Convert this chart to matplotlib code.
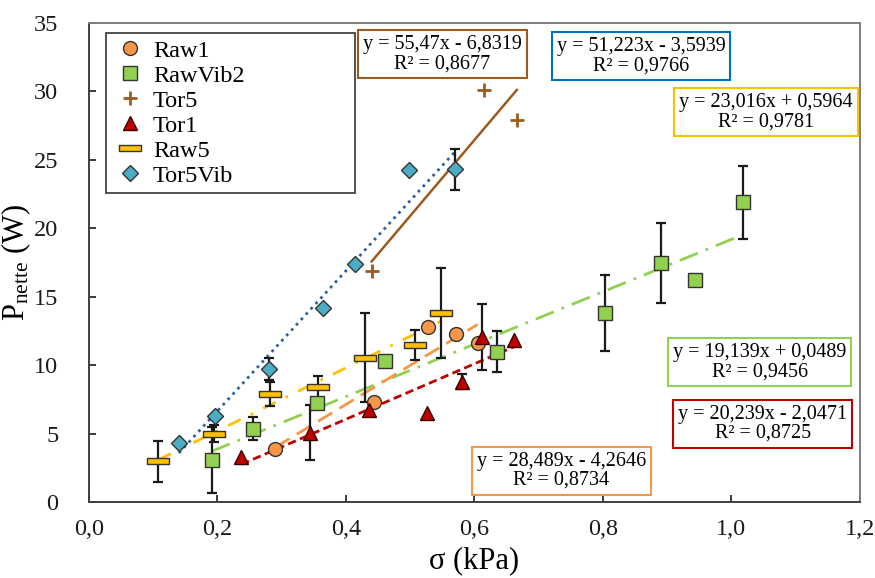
import numpy as np
import matplotlib
matplotlib.use("Agg")
import matplotlib.pyplot as plt
from matplotlib.path import Path

plt.rcParams['font.family'] = ['Liberation Serif', 'DejaVu Serif']
plt.rcParams['mathtext.fontset'] = 'custom'
plt.rcParams['mathtext.rm'] = 'Liberation Serif'
plt.rcParams['mathtext.it'] = 'Liberation Serif:italic'

# --- data ---
raw1_x = [0.29, 0.444, 0.527, 0.571, 0.605]
raw1_y = [3.9, 7.3, 12.8, 12.3, 11.6]

rawvib2_x = [0.191, 0.256, 0.355, 0.461, 0.635, 0.803, 0.89, 0.944, 1.018]
rawvib2_y = [3.06, 5.37, 7.24, 10.31, 10.97, 13.81, 17.46, 16.24, 21.9]
rawvib2_err = [2.4, 0.85, 0, 0, 1.5, 2.8, 2.9, 0, 2.65]

tor5_x = [0.44, 0.615, 0.666]
tor5_y = [16.87, 30.1, 27.9]

tor1_x = [0.237, 0.344, 0.436, 0.526, 0.58, 0.612, 0.661]
tor1_y = [3.26, 5.06, 6.71, 6.47, 8.78, 12.06, 11.87]
tor1_err = [0, 2.0, 0, 0, 0.55, 2.43, 0]

raw5_x = [0.108, 0.195, 0.282, 0.356, 0.429, 0.507, 0.548]
raw5_y = [2.97, 5.0, 7.9, 8.4, 10.55, 11.45, 13.81]
raw5_err = [1.48, 0.6, 0.9, 0.8, 3.26, 1.1, 3.3]

tor5vib_x = [0.14, 0.196, 0.28, 0.364, 0.414, 0.498, 0.57]
tor5vib_y = [4.33, 6.27, 9.75, 14.2, 17.41, 24.25, 24.3]
tor5vib_err = [0, 0, 0.8, 0, 0, 0, 1.5]

# trendline equations (slope, intercept, R2) as printed on the chart
fits = {
    'Raw1': (28.489, -4.2646, '0,8734', 'y = 28,489x - 4,2646'),
    'RawVib2': (19.139, 0.0489, '0,9456', 'y = 19,139x + 0,0489'),
    'Tor5': (55.47, -6.8319, '0,8677', 'y = 55,47x - 6,8319'),
    'Tor1': (20.239, -2.0471, '0,8725', 'y = 20,239x - 2,0471'),
    'Raw5': (23.016, 0.5964, '0,9781', 'y = 23,016x + 0,5964'),
    'Tor5Vib': (51.223, -3.5939, '0,9766', 'y = 51,223x - 3,5939'),
}

c_orange = '#f79646'
c_green = '#92d050'
c_brown = '#9c5a1e'
c_red = '#c00000'
c_gold = '#ffc000'
c_blue = '#4bacc6'
c_dblue = '#2f5f9e'

fig = plt.figure(figsize=(8.75, 5.78), dpi=100)
ax = fig.add_axes([0.1017, 0.1315, 0.881, 0.8287])

def errbars(x, y, e):
    x = np.array(x); y = np.array(y); e = np.array(e)
    m = e > 0
    ax.errorbar(x[m], y[m], yerr=e[m], fmt='none', ecolor='#1a1a1a',
                elinewidth=1.6, capsize=3.5, capthick=1.6, zorder=3)

def trend(x, name, color, ls, lw=1.8):
    a, b = fits[name][0], fits[name][1]
    xs = np.array([min(x), max(x)])
    ax.plot(xs, a * xs + b, color=color, linestyle=ls, lw=lw, zorder=2)

# trendlines
trend(tor5vib_x, 'Tor5Vib', c_dblue, (0, (1, 1.6)), 2.0)
trend(tor5_x, 'Tor5', c_brown, '-', 1.8)
trend(raw5_x, 'Raw5', c_gold, (0, (5, 4, 1, 4)), 2.0)
trend(rawvib2_x, 'RawVib2', c_green, (0, (7, 3, 1, 3)), 2.0)
trend(raw1_x, 'Raw1', c_orange, (0, (6, 3)), 2.0)
trend(tor1_x, 'Tor1', c_red, (0, (3, 1.6)), 2.0)

# error bars
errbars(rawvib2_x, rawvib2_y, rawvib2_err)
errbars(tor1_x, tor1_y, tor1_err)
errbars(raw5_x, raw5_y, raw5_err)
errbars(tor5vib_x, tor5vib_y, tor5vib_err)

bar_marker = Path([(-1, -0.26), (1, -0.26), (1, 0.26), (-1, 0.26), (-1, -0.26)],
                  [Path.MOVETO, Path.LINETO, Path.LINETO, Path.LINETO, Path.CLOSEPOLY])

ek = '#333333'
ax.plot(raw1_x, raw1_y, 'o', ms=10, mfc=c_orange, mec=ek, mew=1.0, label='Raw1', zorder=4)
ax.plot(rawvib2_x, rawvib2_y, 's', ms=9.5, mfc=c_green, mec=ek, mew=1.0, label='RawVib2', zorder=4)
ax.plot(tor5_x, tor5_y, '+', ms=10, mec=c_brown, mew=2.0, label='Tor5', zorder=4)
ax.plot(tor1_x, tor1_y, '^', ms=10, mfc=c_red, mec='#3a0000', mew=1.0, label='Tor1', zorder=4)
ax.plot(raw5_x, raw5_y, marker=bar_marker, ls='none', ms=16, mfc=c_gold, mec=ek, mew=1.0,
        label='Raw5', zorder=4)
ax.plot(tor5vib_x, tor5vib_y, 'D', ms=8, mfc=c_blue, mec=ek, mew=1.0, label='Tor5Vib', zorder=4)

# equation boxes
boxes = [
    ('Tor5', c_brown, 0.458, 0.935),
    ('Tor5Vib', '#0070c0', 0.716, 0.931),
    ('Raw5', c_gold, 0.878, 0.814),
    ('RawVib2', c_green, 0.870, 0.292),
    ('Tor1', c_red, 0.874, 0.163),
    ('Raw1', c_orange, 0.613, 0.065),
]
for name, col, fx, fy in boxes:
    eq, r2 = fits[name][3], fits[name][2]
    ax.text(fx, fy, eq + '\nR² = ' + r2, transform=ax.transAxes, ha='center', va='center',
            fontsize=14.5, linespacing=1.0, multialignment='center', zorder=6,
            bbox=dict(boxstyle='square,pad=0.25', fc='white', ec=col, lw=1.5))

ax.set_xlim(0, 1.2)
ax.set_ylim(0, 35)
ax.set_xticks(np.arange(0, 1.21, 0.2))
ax.set_xticklabels(['0,0', '0,2', '0,4', '0,6', '0,8', '1,0', '1,2'])
ax.set_yticks(np.arange(0, 36, 5))
ax.tick_params(direction='in', length=5, width=1.2, labelsize=17.5, colors='#1a1a1a')
ax.tick_params(axis='x', pad=12)
ax.tick_params(axis='y', pad=22)
for s in ax.spines.values():
    s.set_color('#7f7f7f')
    s.set_linewidth(1.4)
ax.spines['left'].set_color('#404040')
ax.spines['bottom'].set_color('#404040')

ax.set_xlabel('σ (kPa)', fontsize=22, labelpad=5)
ax.set_ylabel(r'P$_{\mathrm{nette}}$ (W)', fontsize=22)
ax.yaxis.set_label_coords(-0.072, 0.5)

leg = ax.legend(loc='upper left', bbox_to_anchor=(0.022, 0.979, 0.323, 0.0),
                mode='expand', borderaxespad=0,
                fontsize=17.5, frameon=True, fancybox=False, edgecolor='#333333',
                framealpha=1, labelspacing=0.12, handletextpad=0.25, handlelength=1.4,
                borderpad=0.28)
leg.get_frame().set_linewidth(1.2)
leg.set_zorder(7)

fig.savefig('out.png', dpi=100)
